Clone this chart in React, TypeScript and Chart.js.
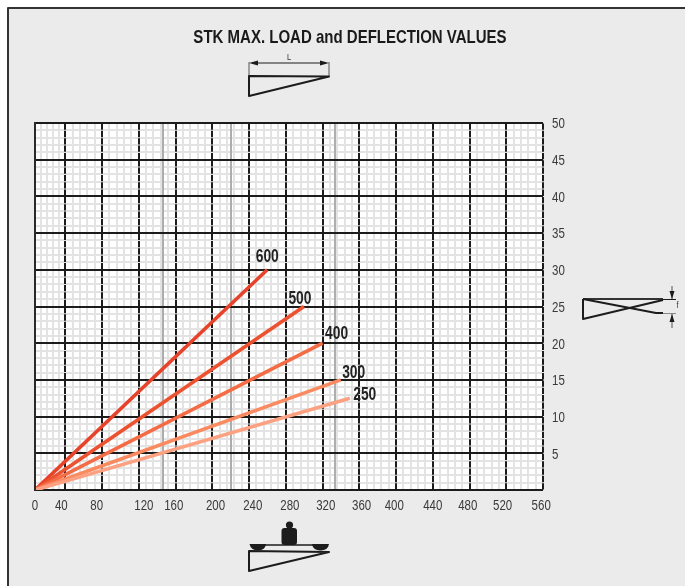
import React, { useEffect, useRef } from "react";
import { Chart, registerables } from "chart.js";

Chart.register(...registerables);

const FONT = '"Liberation Sans", Arial, sans-serif';

const titleText = "STK MAX. LOAD and DEFLECTION VALUES";

// Load axis (x): the printed grid is not quite regular, so every line is listed.
const xGridLines = [0, 33.4, 73.9, 114.3, 154.9, 195.4, 235.9, 276.4, 317.1, 357.5, 398, 438.5, 479.2, 519.5, 560];
const xGreyLines = [141.4, 215.7, 330.4];
const xTickLabels = ["0", "40", "80", "120", "160", "200", "240", "280", "320", "360", "400", "440", "480", "520", "560"];
const xTickPlaces = [0, 29, 68, 120, 153, 199, 240, 281, 320.5, 360, 396, 438.5, 477, 515.5, 558];

// Deflection axis (y)
const yMajorTicks = [0, 5, 10, 15, 20, 25, 30, 35, 40, 45, 50];

// Lengths
const seriesNames = ["600", "500", "400", "300", "250"];
const seriesEndX = [256, 296.5, 317, 337, 347];
const seriesEndY = [30, 25, 20, 15, 12.5];
const seriesColors = ["#e6432a", "#ec5230", "#f36c45", "#fa8a60", "#fca283"];
const nameOffsetX = [0, -4, 14, 13, 15];
const nameOffsetY = [-13, -7, -9, -7, -3];

const fixedHeight = (s: any) => {
  s.height = 0;
};
const fixedWidth = (s: any) => {
  s.width = 0;
};
const setTicks = (values: number[]) => (s: any) => {
  s.ticks = values.map((value) => ({ value }));
};

const minorX = (): number[] => {
  const out: number[] = [];
  for (let i = 0; i < xGridLines.length - 1; i++) {
    const a = xGridLines[i];
    const b = xGridLines[i + 1];
    for (let k = 1; k < 5; k++) out.push(a + ((b - a) * k) / 5);
  }
  return out;
};
const minorY = (): number[] => {
  const out: number[] = [];
  for (let v = 1; v < 50; v++) if (v % 5 !== 0) out.push(v);
  return out;
};

const line = (ctx: CanvasRenderingContext2D, pts: number[][], w: number, color: string, close = false) => {
  ctx.beginPath();
  pts.forEach((p, i) => (i ? ctx.lineTo(p[0], p[1]) : ctx.moveTo(p[0], p[1])));
  if (close) ctx.closePath();
  ctx.lineWidth = w;
  ctx.strokeStyle = color;
  ctx.lineJoin = "round";
  ctx.stroke();
};
const tri = (ctx: CanvasRenderingContext2D, pts: number[][], color: string) => {
  ctx.beginPath();
  pts.forEach((p, i) => (i ? ctx.lineTo(p[0], p[1]) : ctx.moveTo(p[0], p[1])));
  ctx.closePath();
  ctx.fillStyle = color;
  ctx.fill();
};

const INK = "#1c1c1c";

// No narrow face is installed, so text is squeezed sideways about its anchor.
const condensedText = (ctx: CanvasRenderingContext2D) => {
  const original = ctx.fillText.bind(ctx);
  (ctx as any).fillText = (text: string, x: number, y: number, maxWidth?: number) => {
    ctx.save();
    ctx.translate(x, y);
    ctx.scale(ctx.font.includes("bold") ? 0.79 : 0.82, 1);
    if (maxWidth === undefined) original(text, 0, 0);
    else original(text, 0, 0, maxWidth);
    ctx.restore();
  };
};

const pagePlugin = {
  id: "page",
  beforeDraw(chart: any) {
    const { ctx, chartArea: a, width, height } = chart;
    ctx.save();
    ctx.fillStyle = "#ffffff";
    ctx.fillRect(0, 0, width, height);
    ctx.fillStyle = "#ebebeb";
    ctx.fillRect(8, 8, width - 8, height - 8);
    line(ctx, [[8, height], [8, 8], [width, 8]], 2, "#333333");
    ctx.fillStyle = "#ffffff";
    ctx.fillRect(a.left, a.top, a.right - a.left, a.bottom - a.top);
    ctx.restore();
  },
};

const sketchesPlugin = {
  id: "sketches",
  afterDraw(chart: any) {
    const ctx: CanvasRenderingContext2D = chart.ctx;
    ctx.save();
    // Top sketch: length L
    line(ctx, [[249, 62], [249, 76]], 1, "#555555");
    line(ctx, [[329, 62], [329, 76]], 1, "#555555");
    line(ctx, [[252, 63], [326, 63]], 1, INK);
    tri(ctx, [[249, 63], [258, 60.5], [258, 65.5]], INK);
    tri(ctx, [[329, 63], [320, 60.5], [320, 65.5]], INK);
    line(ctx, [[249, 76], [329, 76.5], [249, 96]], 2, INK, true);
    ctx.fillStyle = "#333333";
    ctx.font = `9px ${FONT}`;
    ctx.textAlign = "center";
    ctx.textBaseline = "middle";
    ctx.fillText("L", 289, 58);

    // Bottom sketch: weight on the beam
    line(ctx, [[249, 551], [329, 552], [249, 571]], 2, INK, true);
    ctx.fillStyle = INK;
    ctx.beginPath();
    ctx.arc(289.5, 525, 3.6, 0, Math.PI * 2);
    ctx.fill();
    ctx.beginPath();
    ctx.roundRect(281.5, 528, 15.5, 17, 3);
    ctx.fill();
    line(ctx, [[262, 545], [316, 545]], 1.4, INK);
    ctx.beginPath();
    ctx.moveTo(249.5, 544);
    ctx.lineTo(266, 544);
    ctx.quadraticCurveTo(265, 550.5, 258, 550.5);
    ctx.quadraticCurveTo(251, 550.5, 249.5, 544);
    ctx.fill();
    ctx.beginPath();
    ctx.moveTo(312, 544);
    ctx.lineTo(329, 544);
    ctx.quadraticCurveTo(328, 550.5, 320.5, 550.5);
    ctx.quadraticCurveTo(313, 550.5, 312, 544);
    ctx.fill();

    // Right sketch: deflection f
    line(ctx, [[583, 299], [663, 299]], 2, "#333333");
    line(ctx, [[583, 299], [583, 319], [663, 300]], 2, INK);
    line(ctx, [[583, 299], [656, 313], [663, 313]], 2, INK);
    line(ctx, [[663, 299.5], [676, 299.5]], 1, INK);
    line(ctx, [[663, 313.5], [676, 313.5]], 1, "#888888");
    line(ctx, [[672, 286], [672, 299]], 1, "#555555");
    line(ctx, [[672, 314], [672, 328]], 1, "#555555");
    tri(ctx, [[672, 299], [669.5, 291], [674.5, 291]], INK);
    tri(ctx, [[672, 314], [669.5, 322], [674.5, 322]], INK);
    ctx.fillStyle = "#333333";
    ctx.font = `9px ${FONT}`;
    ctx.fillText("f", 677.5, 306);

    // Length names at the end of each line
    ctx.fillStyle = "#222222";
    ctx.font = `bold 17.5px ${FONT}`;
    chart.data.datasets.forEach((ds: any, i: number) => {
      const pts = chart.getDatasetMeta(i).data;
      const end = pts[pts.length - 1];
      ctx.fillText(ds.label, end.x + nameOffsetX[i], end.y + nameOffsetY[i]);
    });
    ctx.restore();
  },
};

export default function App() {
  const ref = useRef<HTMLCanvasElement>(null);

  useEffect(() => {
    if (!ref.current) return;
    condensedText(ref.current.getContext("2d")!);
    const hiddenTicks = { display: false, autoSkip: false };
    const chart = new Chart(ref.current, {
      type: "line",
      data: {
        datasets: seriesNames.map((name, i) => ({
          label: name,
          data: [
            { x: 0, y: 0 },
            { x: seriesEndX[i], y: seriesEndY[i] },
          ],
          borderColor: seriesColors[i],
          borderWidth: 3.6,
          pointRadius: 0,
          tension: 0,
          xAxisID: "x",
          yAxisID: "y",
          order: -i,
        })),
      },
      plugins: [pagePlugin, sketchesPlugin],
      options: {
        animation: false,
        responsive: false,
        events: [],
        layout: { autoPadding: false, padding: { left: 35, right: 20, top: 0, bottom: 0 } },
        plugins: {
          legend: { display: false },
          tooltip: { enabled: false },
          title: {
            display: true,
            text: titleText,
            color: "#1a1a1a",
            font: { family: FONT, size: 19, weight: "bold" },
            padding: { top: 26, bottom: 74.2 },
          },
        },
        scales: {
          xMinor: {
            type: "linear",
            min: 0,
            max: 560,
            position: "bottom",
            afterBuildTicks: setTicks(minorX()),
            afterFit: fixedHeight,
            ticks: hiddenTicks,
            border: { display: false },
            grid: { color: "#e3e3e3", lineWidth: 2, drawTicks: false, z: -4 },
          },
          yMinor: {
            type: "linear",
            min: 0,
            max: 50,
            position: "left",
            afterBuildTicks: setTicks(minorY()),
            afterFit: fixedWidth,
            ticks: hiddenTicks,
            border: { display: true, color: "#2a2a2a", width: 2, z: 2 },
            grid: { color: "#e3e3e3", lineWidth: 2, drawTicks: false, z: -4 },
          },
          xGrey: {
            type: "linear",
            min: 0,
            max: 560,
            position: "bottom",
            afterBuildTicks: setTicks(xGreyLines),
            afterFit: fixedHeight,
            ticks: hiddenTicks,
            border: { display: false },
            grid: { color: "#adadad", lineWidth: 2, drawTicks: false, z: -3 },
          },
          x: {
            type: "linear",
            min: 0,
            max: 560,
            position: "bottom",
            afterBuildTicks: setTicks(xGridLines.slice(1)),
            afterFit: fixedHeight,
            ticks: hiddenTicks,
            border: { display: false, dash: [6.3, 1.04], dashOffset: 6.82 },
            grid: { color: "#1c1c1c", lineWidth: 2, drawTicks: false, z: -2 },
          },
          xLabels: {
            type: "linear",
            min: 0,
            max: 560,
            position: "bottom",
            afterBuildTicks: setTicks(xTickPlaces),
            afterFit: (s: any) => {
              s.height = 96;
            },
            border: { display: false },
            grid: { display: false },
            ticks: {
              autoSkip: false,
              maxRotation: 0,
              padding: 0,
              color: "#3a3a3a",
              font: { family: FONT, size: 14 },
              callback: (_v: any, i: number) => xTickLabels[i],
            },
          },
          y: {
            type: "linear",
            min: 0,
            max: 50,
            position: "right",
            afterBuildTicks: setTicks(yMajorTicks),
            afterFit: (s: any) => {
              s.width = 122;
            },
            border: { display: false },
            grid: { color: "#1c1c1c", lineWidth: 2, drawTicks: false, z: -1 },
            ticks: {
              autoSkip: false,
              padding: 9,
              labelOffset: 1.5,
              color: "#3a3a3a",
              font: { family: FONT, size: 14 },
              callback: (v: any) => (v === 0 ? "" : String(v)),
            },
          },
        },
      } as any,
    });
    return () => chart.destroy();
  }, []);

  return (
    <div style={{ position: "absolute", left: 0, top: 0, width: 685, height: 586 }}>
      <canvas ref={ref} width={685} height={586} style={{ display: "block" }} />
    </div>
  );
}
